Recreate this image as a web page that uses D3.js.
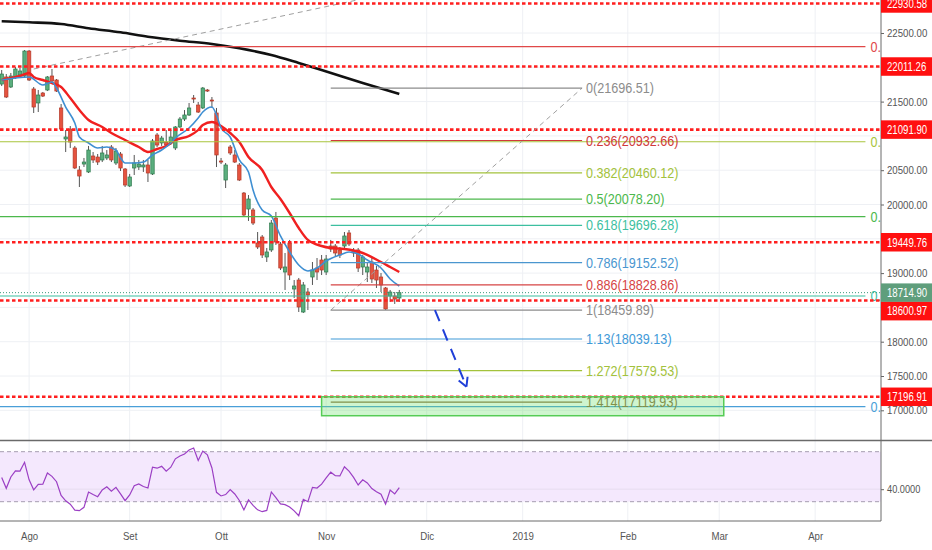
<!DOCTYPE html>
<html>
<head>
<meta charset="utf-8">
<title>FTSE MIB daily</title>
<script src="https://cdn.jsdelivr.net/npm/d3@7/dist/d3.min.js"></script>
<style>
  body { margin: 0; background: #fff; }
  svg { display: block; font-family: "Liberation Sans", Arial, sans-serif; }
</style>
</head>
<body>
<svg id="chart" width="932" height="550"></svg>
<script>
'use strict';

// ---------- data ----------
var firstDay = '2018-07-24';
var lastDay = '2019-05-31';
var holidays = ['2018-08-15'];

var monthTicks = [
    ['2018-08-01', 'Ago'], ['2018-09-03', 'Set'], ['2018-10-01', 'Ott'],
    ['2018-11-01', 'Nov'], ['2018-12-03', 'Dic'], ['2019-01-01', '2019'],
    ['2019-02-01', 'Feb'], ['2019-03-01', 'Mar'], ['2019-04-01', 'Apr']
];

var opens = [21756, 21859, 21713, 21859, 21888, 21873, 22237, 21684, 21480, 21625,
    21669, 21873, 21815, 21407, 20955, 21100, 20824, 20503, 20590, 20474,
    20707, 20692, 20649, 20678, 20838, 20605, 20736, 20517, 20270, 20532,
    20547, 20547, 20576, 20445, 21013, 20897, 20911, 20897, 20824, 21130,
    21246, 21305, 21552, 21450, 21407, 21669, 21523, 21334, 20634, 20357,
    20838, 20722, 20576, 20167, 19934, 19920, 19439, 19526, 19235, 19337,
    19803, 19424, 19016, 19439, 18768, 18899, 18433, 18725, 18943, 19074,
    19191, 19016, 19395, 19395, 19337, 19395, 19585, 19322, 19337, 19089,
    19016, 19162, 19045, 18943, 18783, 18666, 18666, 18637];
var highs = [21961, 21902, 21917, 22004, 21990, 22252, 22252, 21713, 21669, 21640,
    21873, 21975, 21829, 21465, 21086, 21144, 20853, 20561, 20678, 20853,
    20765, 20736, 20853, 20794, 20867, 20824, 20765, 20532, 20445, 20722,
    20649, 20649, 20649, 20955, 21042, 20999, 21086, 21086, 21144, 21275,
    21377, 21480, 21596, 21494, 21713, 21684, 21567, 21407, 20678, 20605,
    20867, 20794, 20605, 20182, 20138, 19949, 19599, 19555, 19366, 19774,
    19891, 19453, 19293, 19483, 18899, 18929, 18870, 18783, 19162, 19220,
    19264, 19264, 19483, 19424, 19380, 19599, 19628, 19366, 19366, 19264,
    19162, 19220, 19104, 19001, 18797, 18754, 18724, 18754];
var lows = [21727, 21552, 21698, 21829, 21873, 21859, 21800, 21334, 21348, 21567,
    21654, 21786, 21640, 21086, 20765, 20824, 20517, 20255, 20547, 20459,
    20605, 20576, 20619, 20649, 20619, 20576, 20488, 20255, 20255, 20430,
    20503, 20474, 20328, 20430, 20838, 20853, 20838, 20867, 20794, 21115,
    21217, 21290, 21480, 21334, 21392, 21640, 21407, 20546, 20590, 20240,
    20722, 20605, 20342, 19832, 19760, 19701, 19351, 19220, 19162, 19308,
    19410, 19045, 18754, 18899, 18637, 18433, 18418, 18462, 18827, 18899,
    18972, 18972, 19308, 19249, 19220, 19366, 19395, 19235, 19016, 18972,
    18870, 18856, 18783, 18724, 18462, 18579, 18550, 18579];
var closes = [21902, 21567, 21873, 21975, 21946, 22237, 21815, 21421, 21596, 21581,
    21859, 21800, 21654, 21100, 20984, 20911, 20532, 20415, 20619, 20794,
    20649, 20619, 20751, 20722, 20649, 20780, 20532, 20284, 20401, 20605,
    20590, 20576, 20459, 20926, 20867, 20969, 20867, 20984, 21130, 21246,
    21305, 21407, 21538, 21348, 21698, 21654, 21509, 20722, 20619, 20576,
    20751, 20619, 20357, 19847, 20080, 19730, 19380, 19264, 19308, 19730,
    19453, 19074, 19089, 18972, 18812, 18506, 18827, 18681, 19045, 19016,
    19045, 19205, 19351, 19293, 19264, 19541, 19424, 19293, 19074, 19235,
    19089, 18914, 18899, 18827, 18477, 18724, 18622, 18714.90];

var rsiValues = [49.3, 40.7, 49.8, 54.7, 54.5, 61.5, 47.5, 39.5, 43.8, 44,
    53, 50.3, 46, 35, 30.7, 28, 23.3, 22.8, 25.5, 37.7,
    35.7, 34, 39.4, 42, 38.4, 41.5, 36.3, 30.8, 35.4, 42.8,
    44.2, 42.2, 41, 57.6, 56.8, 58.3, 54.4, 57.6, 64.3, 66.5,
    68.2, 71.3, 73, 62.9, 70.5, 67.5, 57, 37.5, 34.6, 35.7,
    39.7, 36.2, 31, 23.4, 31.4, 27, 23.5, 22, 23, 37.8,
    33.3, 28.2, 27.6, 25.8, 22.7, 18.8, 31.9, 30, 41.5, 40.9,
    44, 49, 53.6, 50.8, 50.6, 58, 54.5, 49.5, 43.4, 47.5,
    45, 40.5, 37.9, 36, 28, 39.4, 36.2, 41.2];

// [bar, value] read at points along each average
var emaFast = [[0, 21815], [6, 21859], [9, 21742], [11, 21786], [12, 21698], [14, 21421], [16, 21188],
    [17, 20984], [19, 20897], [21, 20824], [23, 20838], [25, 20794], [26, 20678], [27, 20605],
    [29, 20605], [31, 20619], [33, 20722], [35, 20794], [37, 20897], [38, 20969], [41, 21115],
    [43, 21261], [44, 21348], [46, 21421], [47, 21305], [48, 21115], [50, 20984], [52, 20649],
    [54, 20474], [55, 20211], [57, 19920], [59, 19832], [61, 19541], [63, 19308], [65, 19118],
    [67, 19031], [69, 19074], [71, 19176], [74, 19264], [76, 19308], [78, 19278], [80, 19191],
    [83, 19074], [85, 18914], [87, 18812]];
var emaSlow = [[0, 21815], [2, 21844], [4, 21873], [6, 21917], [7, 21859], [9, 21815], [11, 21771],
    [13, 21713], [15, 21552], [17, 21378], [19, 21232], [22, 21130], [24, 21042], [27, 20940],
    [30, 20838], [32, 20765], [34, 20809], [36, 20853], [38, 20940], [41, 20999], [43, 21086],
    [44, 21159], [46, 21203], [48, 21144], [50, 21042], [52, 20911], [54, 20692], [57, 20503],
    [59, 20255], [61, 20080], [63, 19876], [65, 19657], [67, 19483], [70, 19395], [72, 19366],
    [75, 19351], [79, 19293], [83, 19162], [85, 19089], [87, 19016]];
var sma200 = [[0, 22671], [6, 22656], [13, 22631], [19, 22569], [26, 22510], [32, 22446], [39, 22388],
    [46, 22340], [52, 22277], [59, 22179], [65, 22063], [70, 21961], [79, 21771], [87, 21611]];

var srLevels = [22930.58, 22011.26, 21091.90, 19449.76, 18600.97, 17196.91];
var lastPrice = 18714.90;

var fibRatios = [0, 0.236, 0.382, 0.5, 0.618, 0.786, 0.886, 1, 1.13, 1.272, 1.414];
var fibValues = [21696.51, 20932.66, 20460.12, 20078.20, 19696.28, 19152.52, 18828.86, 18459.89, 18039.13, 17579.53, 17119.93];
var fibBars = [72, 127];
var fibTrend = [18459.89, 21696.51];

var oldFibValues = [22300, 20915, 19822, 18666, 17053];
var oldFibBars = [-1, 189];
var oldFibTrendBars = [7, 78];
var oldFibTrend = [21975, 22984];

var zoneBars = [70, 158];
var zonePrices = [17196.91, 16921];
var arrowBars = [94.8, 101.7];
var arrowPrices = [18462, 17344];

var priceTicks = [17000, 17500, 18000, 18500, 19000, 19500, 20000, 20500, 21000, 21500, 22000, 22500];
var rsiBands = [70, 30];
var rsiTicks = [40];

// ---------- styles ----------
var fibColors = ['#8c8c8c', '#d03a3a', '#a3c23c', '#4cb84c', '#3dbfa0', '#4a96cf', '#d64545', '#8c8c8c', '#3f9ad8', '#a3c23c', '#8b6b3a'];
var oldFibColors = ['#e04848', '#a8c43c', '#4cb84c', '#3dbfa0', '#4a9fd8'];

var axisX = 881;
var mainBottom = 440;
var rsiTop = 441, rsiBottom = 521;

var svg = d3.select('#chart');

// trading calendar (weekdays minus holidays)
var fmt = d3.timeFormat('%Y-%m-%d');
var parse = d3.timeParse('%Y-%m-%d');
var days = d3.timeDay.range(parse(firstDay), parse(lastDay))
    .filter(function (d) { return d.getDay() !== 0 && d.getDay() !== 6 && holidays.indexOf(fmt(d)) < 0; })
    .map(fmt);
var dayIndex = {};
days.forEach(function (k, i) { dayIndex[k] = i; });

var x = d3.scaleLinear().domain([0, 100]).range([1.7, 458.7]);
var y = d3.scaleLinear().domain([17000, 22500]).range([410.3, 33]);
var yr = d3.scaleLinear().domain([30, 70]).range([501.7, 451.7]);

var defs = svg.append('defs');
defs.append('clipPath').attr('id', 'clipMain').append('rect')
    .attr('x', 0).attr('y', 0).attr('width', axisX).attr('height', mainBottom);
defs.append('clipPath').attr('id', 'clipRsi').append('rect')
    .attr('x', 0).attr('y', rsiTop).attr('width', axisX).attr('height', rsiBottom - rsiTop);

var monthIdx = monthTicks.map(function (m) { return dayIndex[m[0]]; });

// grid
var grid = svg.append('g');
grid.selectAll('line.v').data(monthIdx).enter().append('line')
    .attr('x1', function (d) { return x(d); }).attr('x2', function (d) { return x(d); })
    .attr('y1', 0).attr('y2', rsiBottom)
    .attr('stroke', '#eef0f4').attr('stroke-width', 1);
grid.selectAll('line.h').data(priceTicks).enter().append('line')
    .attr('x1', 0).attr('x2', axisX)
    .attr('y1', function (d) { return y(d); }).attr('y2', function (d) { return y(d); })
    .attr('stroke', '#eef0f4').attr('stroke-width', 1);

// ---------- main pane ----------
var main = svg.append('g').attr('clip-path', 'url(#clipMain)');

// candles
var bars = d3.range(opens.length);
var cg = main.append('g');
cg.selectAll('line').data(bars).enter().append('line')
    .attr('x1', function (i) { return x(i); }).attr('x2', function (i) { return x(i); })
    .attr('y1', function (i) { return y(highs[i]); }).attr('y2', function (i) { return y(lows[i]); })
    .attr('stroke', '#555').attr('stroke-width', 1);
cg.selectAll('rect').data(bars).enter().append('rect')
    .attr('x', function (i) { return x(i) - 1.7; })
    .attr('width', 3.4)
    .attr('y', function (i) { return y(Math.max(opens[i], closes[i])); })
    .attr('height', function (i) { return Math.max(1, Math.abs(y(opens[i]) - y(closes[i]))); })
    .attr('fill', function (i) { return closes[i] >= opens[i] ? '#5aae7e' : '#e5533f'; })
    .attr('stroke', function (i) { return closes[i] >= opens[i] ? '#2d7a4c' : '#b33a2a'; })
    .attr('stroke-width', 0.7);

// moving averages
var maLine = d3.line().x(function (d) { return x(d[0]); }).y(function (d) { return y(d[1]); })
    .curve(d3.curveMonotoneX);
main.append('path').datum(sma200).attr('d', maLine)
    .attr('fill', 'none').attr('stroke', '#111').attr('stroke-width', 2.6);
main.append('path').datum(emaSlow).attr('d', maLine)
    .attr('fill', 'none').attr('stroke', '#f02020').attr('stroke-width', 2.4);
main.append('path').datum(emaFast).attr('d', maLine)
    .attr('fill', 'none').attr('stroke', '#3f8fd2').attr('stroke-width', 1.6);

// older fib levels running to the axis
main.append('line')
    .attr('x1', x(oldFibTrendBars[0])).attr('y1', y(oldFibTrend[0]))
    .attr('x2', x(oldFibTrendBars[1])).attr('y2', y(oldFibTrend[1]))
    .attr('stroke', '#a0a0a0').attr('stroke-width', 1).attr('stroke-dasharray', '5,4');
oldFibValues.forEach(function (v, i) {
    main.append('line')
        .attr('x1', x(oldFibBars[0])).attr('x2', x(oldFibBars[1]))
        .attr('y1', y(v)).attr('y2', y(v))
        .attr('stroke', oldFibColors[i]).attr('stroke-width', 1.2);
    main.append('text')
        .attr('class', 'sq90')
        .attr('x', x(oldFibBars[1]) + 5).attr('y', y(v)).attr('dy', '0.36em')
        .attr('fill', oldFibColors[i]).attr('font-size', 14)
        .text('0.' + String(v));
});

// last price line
main.append('line')
    .attr('x1', 0).attr('x2', axisX).attr('y1', y(lastPrice)).attr('y2', y(lastPrice))
    .attr('stroke', '#3a9a7a').attr('stroke-width', 1).attr('stroke-dasharray', '1,2');

// support / resistance levels
main.selectAll('line.sr').data(srLevels).enter().append('line')
    .attr('x1', 0).attr('x2', axisX)
    .attr('y1', function (d) { return y(d); }).attr('y2', function (d) { return y(d); })
    .attr('stroke', '#ff1f1f').attr('stroke-width', 2.6).attr('stroke-dasharray', '3.5,2.5');

// current fib retracement
main.append('line')
    .attr('x1', x(fibBars[0])).attr('y1', y(fibTrend[0]))
    .attr('x2', x(fibBars[1])).attr('y2', y(fibTrend[1]))
    .attr('stroke', '#a0a0a0').attr('stroke-width', 1).attr('stroke-dasharray', '5,4');
fibValues.forEach(function (v, i) {
    main.append('line')
        .attr('x1', x(fibBars[0])).attr('x2', x(fibBars[1]))
        .attr('y1', y(v)).attr('y2', y(v))
        .attr('stroke', fibColors[i]).attr('stroke-width', 1.2);
    main.append('text')
        .attr('class', 'sq90')
        .attr('x', x(fibBars[1]) + 4).attr('y', y(v)).attr('dy', '0.36em')
        .attr('fill', fibColors[i]).attr('font-size', 14)
        .text(fibRatios[i] + '(' + v.toFixed(2) + ')');
});

// target zone
main.append('rect')
    .attr('x', x(zoneBars[0])).attr('width', x(zoneBars[1]) - x(zoneBars[0]))
    .attr('y', y(zonePrices[0])).attr('height', y(zonePrices[1]) - y(zonePrices[0]))
    .attr('fill', 'rgba(110,225,110,0.33)').attr('stroke', '#55cc55').attr('stroke-width', 1.5);

// projected move arrow
var ax0 = x(arrowBars[0]), ay0 = y(arrowPrices[0]), ax1 = x(arrowBars[1]), ay1 = y(arrowPrices[1]);
var ang = Math.atan2(ay1 - ay0, ax1 - ax0);
main.append('line')
    .attr('x1', ax0).attr('y1', ay0).attr('x2', ax1).attr('y2', ay1)
    .attr('stroke', '#1f3fd8').attr('stroke-width', 2).attr('stroke-dasharray', '12,9');
[-0.5, 0.5].forEach(function (a) {
    main.append('line')
        .attr('x1', ax1).attr('y1', ay1)
        .attr('x2', ax1 - 10 * Math.cos(ang + a)).attr('y2', ay1 - 10 * Math.sin(ang + a))
        .attr('stroke', '#1f3fd8').attr('stroke-width', 2);
});

// ---------- RSI pane ----------
var rsiG = svg.append('g').attr('clip-path', 'url(#clipRsi)');
rsiG.append('rect')
    .attr('x', 0).attr('width', axisX)
    .attr('y', yr(rsiBands[0])).attr('height', yr(rsiBands[1]) - yr(rsiBands[0]))
    .attr('fill', '#f4e8fd');
rsiG.selectAll('line.g').data(rsiTicks).enter().append('line')
    .attr('x1', 0).attr('x2', axisX)
    .attr('y1', function (d) { return yr(d); }).attr('y2', function (d) { return yr(d); })
    .attr('stroke', '#e6dcef').attr('stroke-width', 1);
rsiG.selectAll('line.b').data(rsiBands).enter().append('line')
    .attr('x1', 0).attr('x2', axisX)
    .attr('y1', function (d) { return yr(d); }).attr('y2', function (d) { return yr(d); })
    .attr('stroke', '#a59db0').attr('stroke-width', 1).attr('stroke-dasharray', '4,3');
rsiG.append('path').datum(rsiValues)
    .attr('d', d3.line().x(function (d, i) { return x(i); }).y(function (d) { return yr(d); }))
    .attr('fill', 'none').attr('stroke', '#9b3fc4').attr('stroke-width', 1.2);

// ---------- frames and axes ----------
svg.append('line').attr('x1', 0).attr('x2', 932).attr('y1', 440.5).attr('y2', 440.5)
    .attr('stroke', '#6a6a6a').attr('stroke-width', 1.5);
svg.append('line').attr('x1', 0).attr('x2', axisX).attr('y1', rsiBottom).attr('y2', rsiBottom)
    .attr('stroke', '#6a6a6a').attr('stroke-width', 1);
svg.append('line').attr('x1', axisX).attr('x2', axisX).attr('y1', 0).attr('y2', rsiBottom)
    .attr('stroke', '#6a6a6a').attr('stroke-width', 1);

// price labels on the axis, stacked so they do not overlap
var tags = [{ v: lastPrice, fill: '#5f9e7c' }].concat(
    srLevels.slice().sort(function (a, b) { return b - a; }).map(function (v) { return { v: v, fill: '#ff1010' }; }));
var placed = [];
tags.forEach(function (t) {
    var cy = y(t.v);
    placed.forEach(function (p) {
        if (Math.abs(cy - p) < 18.5) cy = p + 18.5;
    });
    placed.push(cy);
    t.cy = cy;
});

// tick labels that sit under a tag are hidden, as the platform does
var shownTicks = priceTicks.filter(function (v) {
    return placed.every(function (p) { return Math.abs(y(v) - p) > 12; });
});

var yAxis = svg.append('g').attr('transform', 'translate(' + axisX + ',0)')
    .call(d3.axisRight(y).tickValues(shownTicks).tickFormat(d3.format('.2f')).tickSize(3).tickPadding(3));
yAxis.select('.domain').remove();
yAxis.selectAll('text').attr('class', 'sq84').attr('fill', '#555').attr('font-size', 11.5).attr('font-family', null);
yAxis.selectAll('line').attr('stroke', '#666');

var rAxis = svg.append('g').attr('transform', 'translate(' + axisX + ',0)')
    .call(d3.axisRight(yr).tickValues(rsiTicks).tickFormat(d3.format('.4f')).tickSize(3).tickPadding(3));
rAxis.select('.domain').remove();
rAxis.selectAll('text').attr('class', 'sq84').attr('fill', '#555').attr('font-size', 11).attr('font-family', null);
rAxis.selectAll('line').attr('stroke', '#666');

var xAxis = svg.append('g').attr('transform', 'translate(0,' + rsiBottom + ')')
    .call(d3.axisBottom(x).tickValues(monthIdx)
        .tickFormat(function (d, i) { return monthTicks[i][1]; }).tickSize(0).tickPadding(11));
xAxis.select('.domain').remove();
xAxis.selectAll('text').attr('class', 'sq84').attr('fill', '#555').attr('font-size', 11.5).attr('font-family', null);

var tagG = svg.append('g');
tags.forEach(function (t) {
    tagG.append('rect').attr('x', axisX).attr('y', t.cy - 9.25).attr('width', 932 - axisX).attr('height', 18.5)
        .attr('fill', t.fill);
    tagG.append('text').attr('class', 'sq80').attr('x', axisX + 6).attr('y', t.cy).attr('dy', '0.36em')
        .attr('fill', '#fff').attr('font-size', 12).text(t.v.toFixed(2));
});

// the reference uses a condensed face: squeeze glyphs horizontally
[['sq90', 0.9], ['sq84', 0.84], ['sq80', 0.8]].forEach(function (s) {
    svg.selectAll('text.' + s[0]).each(function () {
        var w = this.getComputedTextLength();
        this.setAttribute('textLength', (w * s[1]).toFixed(1));
        this.setAttribute('lengthAdjust', 'spacingAndGlyphs');
    });
});
</script>
</body>
</html>
